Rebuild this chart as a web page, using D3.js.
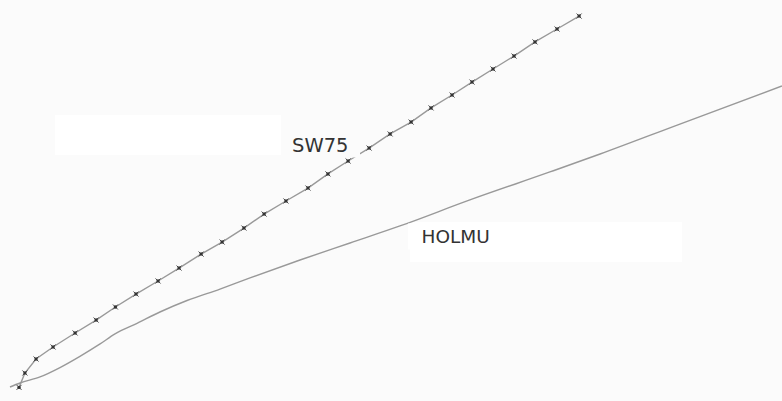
<!DOCTYPE html>
<html>
<head>
<meta charset="utf-8">
<script src="https://cdn.jsdelivr.net/npm/d3@7"></script>
<style>
  html, body { margin: 0; padding: 0; background: #fbfbfb; }
  svg { display: block; }
</style>
</head>
<body>
<script>
// ---- data (arbitrary units) ----
const sw75X = [0.43, 0.71, 1.24, 2.05, 3.1, 4.1, 5.02, 6.0, 7.05, 8.05, 9.1, 10.1, 11.14, 12.1, 13.14, 14.19, 15.14, 16.1, 17.1, 18.1, 19.1, 20.05, 21.05, 22.0, 23.0, 24.0, 25.0, 26.05, 27.1];
const sw75Y = [0.35, 1.44, 2.5, 3.41, 4.47, 5.45, 6.44, 7.42, 8.41, 9.39, 10.45, 11.36, 12.42, 13.48, 14.47, 15.45, 16.52, 17.5, 18.48, 19.55, 20.45, 21.52, 22.5, 23.48, 24.47, 25.45, 26.52, 27.5, 28.48];
const holmuX = [0, 0.48, 1.43, 2.38, 3.33, 4.29, 5.0, 6.05, 7.14, 8.43, 10.0, 11.43, 13.81, 16.19, 18.57, 21.9, 25.71, 28.1, 31.9, 36.76];
const holmuY = [0.38, 0.68, 1.14, 1.85, 2.7, 3.64, 4.4, 5.2, 6.06, 6.93, 7.8, 8.64, 10.0, 11.29, 12.58, 14.55, 16.67, 18.03, 20.3, 23.18];
const seriesNames = ["SW75", "HOLMU"];
const labelPos = [[13.43, 18.18], [19.6, 11.29]]; // label anchor in data units

// ---- layout ----
const W = 782, H = 401;
const BG = "#fbfbfb";
const x = d3.scaleLinear().domain([0, 37]).range([10, 787]);
const y = d3.scaleLinear().domain([0, 29]).range([392, 9.2]);

const svg = d3.select("body").append("svg").attr("width", W).attr("height", H);
svg.append("rect").attr("width", W).attr("height", H).attr("fill", BG);

// faint white panels
svg.append("rect").attr("x", 55).attr("y", 115).attr("width", 226).attr("height", 40).attr("fill", "#ffffff");
svg.append("rect").attr("x", 410).attr("y", 222).attr("width", 272).attr("height", 40).attr("fill", "#ffffff");

const line = d3.line().x(d => x(d[0])).y(d => y(d[1])).curve(d3.curveMonotoneX);

const sw = sw75X.map((v, i) => [v, sw75Y[i]]);
const ho = holmuX.map((v, i) => [v, holmuY[i]]);

svg.append("path").datum(ho).attr("d", line).attr("fill", "none")
  .attr("stroke", "#999").attr("stroke-width", 1.4);
svg.append("path").datum(sw).attr("d", d3.line().x(d => x(d[0])).y(d => y(d[1])))
  .attr("fill", "none").attr("stroke", "#999").attr("stroke-width", 1.4);

// label backgrounds that break the lines
svg.append("rect").attr("x", 286).attr("y", 131).attr("width", 74).attr("height", 26.5).attr("fill", BG);
svg.append("rect").attr("x", 408).attr("y", 223.5).attr("width", 86).attr("height", 26).attr("fill", "#ffffff");

// markers
const sym = d3.symbol().type(d3.symbolX).size(18);
svg.append("g").selectAll("path").data(sw).join("path")
  .attr("transform", d => `translate(${x(d[0])},${y(d[1])})`)
  .attr("d", sym).attr("stroke", "#444").attr("stroke-width", 1).attr("fill", "none");
svg.append("g").selectAll("circle").data(sw).join("circle")
  .attr("cx", d => x(d[0])).attr("cy", d => y(d[1])).attr("r", 1.7).attr("fill", "#333");

// labels
svg.append("g").selectAll("text").data(seriesNames).join("text")
  .attr("x", (d, i) => x(labelPos[i][0]))
  .attr("y", (d, i) => y(labelPos[i][1]))
  .attr("font-family", "DejaVu Sans, Verdana, sans-serif")
  .attr("font-size", (d, i) => i === 0 ? 19.5 : 18.5)
  .attr("fill", "#333")
  .text(d => d);
</script>
</body>
</html>
